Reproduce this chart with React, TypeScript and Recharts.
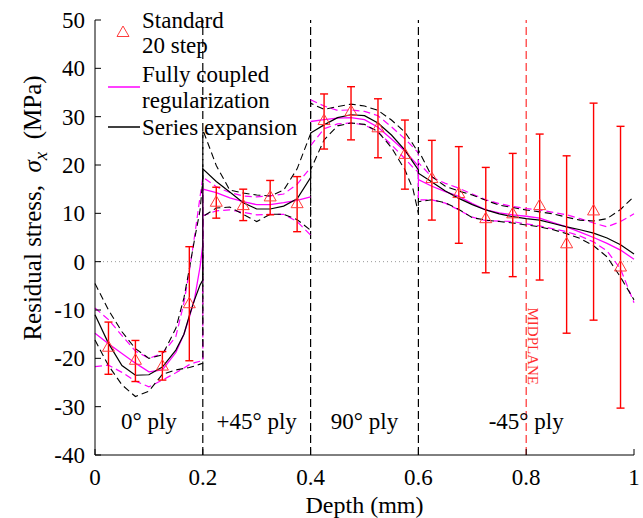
import React from "react"
import {
  ComposedChart,
  Line,
  Scatter,
  ErrorBar,
  XAxis,
  YAxis,
  ReferenceLine,
  ReferenceDot,
} from "recharts"

// measured points (Standard, 20 step)
const standardDepth = [0.025, 0.075, 0.125, 0.175, 0.225, 0.275, 0.325, 0.375, 0.425, 0.475, 0.525, 0.575, 0.625, 0.675, 0.725, 0.775, 0.825, 0.875, 0.925, 0.975]
const standardStress = [-17.6, -20.3, -21.5, -8.6, 12.4, 11.7, 13.5, 12.1, 29.3, 31.2, 27.8, 22.3, 17.3, 14.2, 9.0, 10.0, 11.7, 3.8, 10.6, -1.0]
const standardHigh = [-12.5, -16.3, -18.6, 3.1, 15.4, 15.0, 16.8, 17.6, 34.7, 36.2, 33.7, 29.3, 25.1, 23.8, 19.5, 22.4, 26.4, 21.9, 32.8, 28.0]
const standardLow = [-23.3, -24.8, -24.5, -20.5, 9.0, 8.5, 9.7, 6.2, 23.3, 25.2, 21.5, 15.0, 8.6, 3.8, -2.3, -3.1, -3.8, -14.8, -12.1, -30.3]

// curve depths, ply boundaries repeated so the curves can jump
// (the extra 0.4 row breaks the regularization curves)
const curveDepth = [
  0, 0.025, 0.05, 0.075, 0.1, 0.125, 0.15, 0.165, 0.175, 0.185, 0.195, 0.2,
  0.2, 0.225, 0.25, 0.275, 0.3, 0.325, 0.35, 0.375, 0.4,
  0.4,
  0.4, 0.425, 0.45, 0.475, 0.5, 0.525, 0.55, 0.575, 0.59, 0.6,
  0.6, 0.625, 0.65, 0.675, 0.7, 0.725, 0.75, 0.775, 0.8, 0.825, 0.85, 0.875, 0.9, 0.925, 0.95, 0.975, 1,
]
const seriesMean = [
  -11.0, -16.9, -21.5, -23.5, -23.4, -21.8, -18.3, -15.0, -11.2, -7.8, -4.8, -3.8,
  19.2, 16.6, 14.4, 12.2, 10.9, 10.9, 11.5, 13.0, 17.4,
  26.6,
  26.6, 28.3, 29.8, 30.4, 30.2, 28.7, 26.2, 23.1, 20.6, 19.0,
  18.3, 16.5, 14.6, 13.1, 11.8, 10.7, 9.9, 9.3, 8.9, 8.6, 7.9, 7.2, 6.6, 5.9, 4.9, 3.5, 1.6,
]
const seriesUpper = [
  -4.5, -10.0, -14.5, -18.0, -20.0, -19.3, -13.8, -7.5, -1.5, 4.8, 10.7, 17.0,
  27.3, 19.9, 14.8, 14.2, 13.8, 13.6, 14.8, 19.2, 26.5,
  32.8,
  32.8, 31.5, 32.1, 32.6, 32.2, 31.3, 29.3, 26.8, 24.3, 22.5,
  23.1, 17.6, 15.6, 14.6, 13.8, 12.7, 11.7, 11.2, 10.7, 10.3, 9.9, 9.2, 8.6, 8.4, 8.9, 10.8, 13.5,
]
const seriesLower = [
  -16.2, -21.5, -25.5, -27.9, -26.8, -23.3, -22.4, -22.1, -21.9, -21.6, -21.2, -21.0,
  9.3, 11.1, 11.3, 9.8, 8.3, 9.8, 9.8, 8.7, 6.5,
  19.0,
  19.0, 25.2, 28.1, 28.7, 28.4, 26.9, 23.6, 19.0, 15.0, 10.0,
  12.4, 12.8, 12.2, 10.8, 9.1, 8.6, 8.3, 8.0, 7.6, 7.2, 6.6, 5.8, 4.8, 3.3, 1.0, -3.2, -7.9,
]
const coupledMean = [
  -14.8, -17.0, -19.0, -21.0, -22.8, -22.4, -18.8, -15.0, -11.5, -7.5, -1.0, 3.5,
  15.0, 14.3, 13.2, 12.4, 11.8, 11.8, 12.2, 12.7, 13.4,
  null,
  29.0, 29.4, 29.7, 29.8, 29.4, 27.8, 25.4, 22.9, 21.0, 19.8,
  17.0, 15.6, 14.5, 13.5, 12.0, 10.7, 10.1, 9.7, 9.4, 9.0, 8.1, 7.2, 6.1, 5.0, 3.8, 2.4, 0.5,
]
const coupledUpper = [
  -9.6, -12.0, -15.3, -18.5, -20.0, -19.0, -15.5, -8.5, -2.0, 5.5, 13.5, 17.5,
  17.5, 15.5, 14.3, 13.6, 13.4, 13.6, 14.0, 16.0, 19.5,
  null,
  33.5, 32.2, 31.3, 31.4, 31.1, 30.2, 27.9, 25.4, 23.7, 22.5,
  20.5, 17.5, 16.2, 15.2, 14.0, 12.8, 12.0, 11.4, 11.0, 10.7, 10.2, 9.7, 8.9, 8.0, 7.2, 8.3, 9.9,
]
const coupledLower = [
  -21.7, -21.4, -22.9, -24.7, -25.9, -24.5, -23.0, -22.0, -21.3, -20.9, -20.6, -20.5,
  9.5, 10.5, 10.7, 10.2, 9.7, 9.8, 9.8, 8.3, 5.5,
  null,
  24.0, 27.5, 28.5, 28.7, 28.3, 26.8, 24.2, 21.3, 19.5, 18.5,
  12.8, 12.8, 12.1, 10.7, 9.2, 8.5, 8.4, 8.3, 7.8, 7.4, 6.8, 6.2, 5.3, 4.1, 2.2, -1.5, -8.5,
]

const xTicks = [0, 0.2, 0.4, 0.6, 0.8, 1]
const yTicks = [-40, -30, -20, -10, 0, 10, 20, 30, 40, 50]
const plyBounds = [0.2, 0.4, 0.6]
const plyNames = ["0° ply", "+45° ply", "90° ply", "-45° ply"]
const plyCenters = [0.1, 0.3, 0.5, 0.8]
const midplaneDepth = 0.8

const serif = '"Liberation Serif", "Times New Roman", serif'
const MAGENTA = "#ff00ff"

const curveData = curveDepth.map((x, i) => ({
  x,
  seriesMean: seriesMean[i],
  seriesUpper: seriesUpper[i],
  seriesLower: seriesLower[i],
  coupledMean: coupledMean[i],
  coupledUpper: coupledUpper[i],
  coupledLower: coupledLower[i],
}))

const standardData = standardDepth.map((x, i) => ({
  x,
  y: standardStress[i],
  err: [standardStress[i] - standardLow[i], standardHigh[i] - standardStress[i]],
}))

function TriangleMark(props: any) {
  const { cx, cy } = props
  if (cx == null || cy == null) return null
  return (
    <polygon
      points={`${cx},${cy - 6} ${cx - 6},${cy + 4.5} ${cx + 6},${cy + 4.5}`}
      fill="none"
      stroke="#ff3b3b"
      strokeWidth={1}
    />
  )
}

function MidplaneLabel(props: any) {
  const vb = props.viewBox || {}
  const x = (vb.x ?? 0) + 2
  const y = (vb.y ?? 0) + (vb.height ?? 0) * 0.75
  return (
    <text
      x={x}
      y={y}
      transform={`rotate(90, ${x}, ${y})`}
      textAnchor="middle"
      fill="#ff3030"
      fontSize={15}
      fontFamily={serif}
    >
      MIDPLANE
    </text>
  )
}

export default function App() {
  const tickStyle = { fill: "#000", fontSize: 23, fontFamily: serif }
  return (
    <div style={{ position: "absolute", left: 0, top: 0, width: 643, height: 518, background: "#fff" }}>
      <ComposedChart width={643} height={518} data={curveData} margin={{ top: 20, right: 9, bottom: 0, left: 0 }}>
        <XAxis
          type="number"
          dataKey="x"
          domain={[0, 1]}
          ticks={xTicks}
          interval={0}
          height={63}
          tickSize={-6}
          tickMargin={20}
          axisLine={{ stroke: "#000" }}
          tickLine={{ stroke: "#000" }}
          tick={tickStyle}
          label={{ value: "Depth (mm)", position: "insideBottom", offset: 5, fill: "#000", fontSize: 24, fontFamily: serif }}
        />
        <YAxis
          type="number"
          domain={[-40, 50]}
          ticks={yTicks}
          interval={0}
          width={95}
          tickSize={-6}
          tickMargin={16}
          axisLine={{ stroke: "#000" }}
          tickLine={{ stroke: "#000" }}
          tick={tickStyle}
          allowDataOverflow
        />
        <ReferenceLine y={0} stroke="#999" strokeDasharray="1 3" />
        {plyBounds.map((b) => (
          <ReferenceLine key={b} x={b} stroke="#000" strokeWidth={1.2} strokeDasharray="8 4" />
        ))}
        <ReferenceLine x={midplaneDepth} stroke="#ff3030" strokeWidth={1.2} strokeDasharray="8 4" label={MidplaneLabel} />
        {plyNames.map((name, i) => (
          <ReferenceDot
            key={name}
            x={plyCenters[i]}
            y={-33}
            r={1}
            fill="none"
            stroke="none"
            label={{ value: name, position: "center", fill: "#000", fontSize: 23, fontFamily: serif }}
          />
        ))}

        <Line dataKey="coupledUpper" type="linear" stroke={MAGENTA} strokeWidth={1.2} strokeDasharray="7 4" dot={false} isAnimationActive={false} />
        <Line dataKey="coupledLower" type="linear" stroke={MAGENTA} strokeWidth={1.2} strokeDasharray="7 4" dot={false} isAnimationActive={false} />
        <Line dataKey="seriesUpper" type="linear" stroke="#000" strokeWidth={1.1} strokeDasharray="7 4" dot={false} isAnimationActive={false} />
        <Line dataKey="seriesLower" type="linear" stroke="#000" strokeWidth={1.1} strokeDasharray="7 4" dot={false} isAnimationActive={false} />
        <Line dataKey="coupledMean" type="linear" stroke={MAGENTA} strokeWidth={1.3} dot={false} isAnimationActive={false} />
        <Line dataKey="seriesMean" type="linear" stroke="#000" strokeWidth={1.2} dot={false} isAnimationActive={false} />

        <Scatter data={standardData} dataKey="y" shape={TriangleMark} isAnimationActive={false}>
          <ErrorBar dataKey="err" direction="y" width={4} stroke="#ff0000" strokeWidth={1.4} isAnimationActive={false} />
        </Scatter>
      </ComposedChart>

      <svg width={643} height={518} style={{ position: "absolute", left: 0, top: 0, pointerEvents: "none" }}>
        <text
          transform="rotate(-90)"
          x={-208}
          y={41}
          textAnchor="middle"
          fontSize={25}
          fontFamily={serif}
          fill="#000"
          style={{ whiteSpace: "pre" }}
        >
          {"Residual stress,  "}
          <tspan fontStyle="italic">σ</tspan>
          <tspan fontStyle="italic" fontSize={19} dy={6}>x</tspan>
          <tspan dy={-6}>{"  (MPa)"}</tspan>
        </text>

        <g fontFamily={serif} fontSize={23} fill="#000">
          <polygon points="123,26 117,36.5 129,36.5" fill="none" stroke="#ff3b3b" strokeWidth={1} />
          <text x={142} y={28}>Standard</text>
          <text x={142} y={53}>20 step</text>
          <line x1={108} x2={140} y1={87} y2={87} stroke={MAGENTA} strokeWidth={1.5} />
          <text x={142} y={82}>Fully coupled</text>
          <text x={142} y={108}>regularization</text>
          <line x1={108} x2={140} y1={127} y2={127} stroke="#000" strokeWidth={1.5} />
          <text x={142} y={135}>Series expansion</text>
        </g>
      </svg>
    </div>
  )
}
